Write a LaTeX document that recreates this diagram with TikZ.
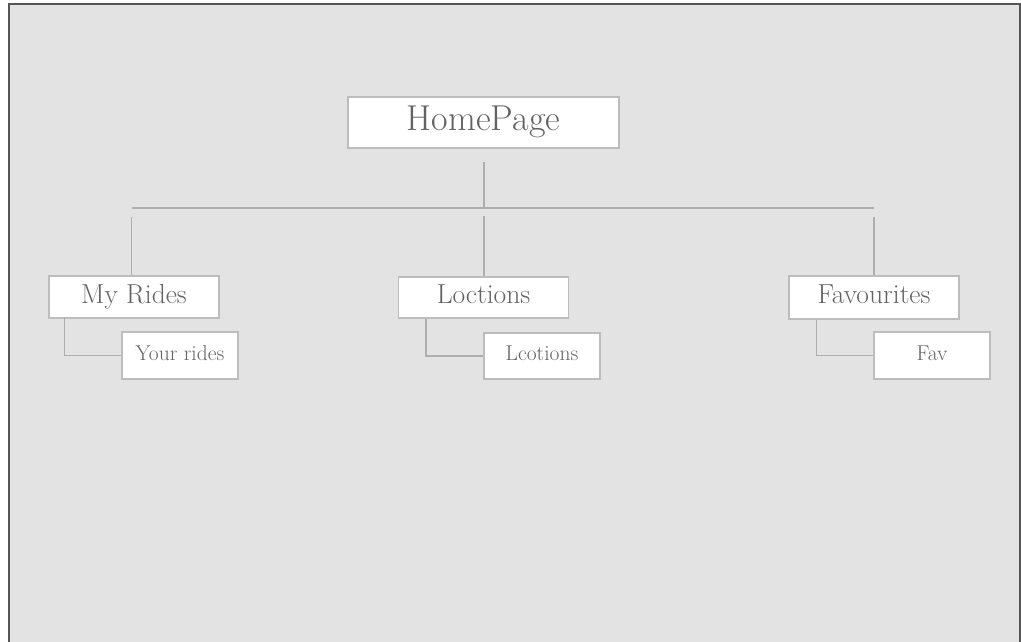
\documentclass[tikz,border=0pt]{standalone}
\usepackage{fontspec}
\definecolor{bgc}{HTML}{E3E3E3}
\definecolor{framec}{HTML}{555555}
\definecolor{boxc}{HTML}{BDBDBD}
\definecolor{linec}{HTML}{AEAEAE}
\definecolor{txtc}{HTML}{636363}
\tikzset{
  pagebox/.style={draw=boxc, line width=1.1pt, fill=white, inner sep=0pt, text=txtc},
  toplevel/.style={pagebox, minimum width=271pt, minimum height=51pt,
    text height=25.2pt, text depth=9pt, font=\fontsize{36}{42}\selectfont},
  midlevel/.style={pagebox, minimum width=170pt, minimum height=42pt,
    text height=19.25pt, text depth=6.9pt, font=\fontsize{27.5}{32}\selectfont},
  leaflevel/.style={pagebox, minimum width=116pt, minimum height=47pt,
    text height=15pt, text depth=5.4pt, font=\fontsize{21.5}{26}\selectfont},
  conn/.style={draw=linec, line width=1.3pt}
}
\begin{document}
\begin{tikzpicture}[x=1pt,y=-1pt]
\useasboundingbox (0,0) rectangle (1021,642);
% background and frame
\fill[white] (0,0) rectangle (1021,642);
\fill[bgc] (9,4) rectangle (1019.5,642);
\draw[framec, line width=2pt] (9.4,642) -- (9.4,4) -- (1019.5,4) -- (1019.5,642);

% nodes
\node[toplevel] (home) at (483.5,122.5) {HomePage};
\node[midlevel] (rides) at (134,297) {My Rides};
\node[leaflevel] (yrides) at (180,355.5) {Your rides};
\node[midlevel, minimum height=41pt] (loc) at (483.5,297.5) {Loctions};
\node[leaflevel, minimum height=46pt] (lcot) at (542,356) {Lcotions};
\node[midlevel, minimum height=43pt] (favs) at (874,297.5) {Favourites};
\node[leaflevel] (fav) at (932,355.5) {Fav};

% hub coordinates
\coordinate (hub) at (484,208);
\coordinate (bl) at (131.5,208);
\coordinate (br) at (874,208);

% connectors
\draw[conn] ([yshift=-13pt]home.south -| hub) -- (hub);
\draw[conn] (bl) -- (br);
\draw[conn] ([yshift=-9pt]bl) -- (bl |- rides.north);
\draw[conn] ([yshift=-8pt]hub) -- (hub |- loc.north);
\draw[conn] ([yshift=-9pt]br) -- (br |- favs.north);

\draw[conn] ([xshift=16pt,yshift=2pt]rides.south west) |- (yrides.west);
\draw[conn] ([xshift=28pt]loc.south west) |- (lcot.west);
\draw[conn] ([xshift=28pt]favs.south west) |- (fav.west);
\end{tikzpicture}
\end{document}
